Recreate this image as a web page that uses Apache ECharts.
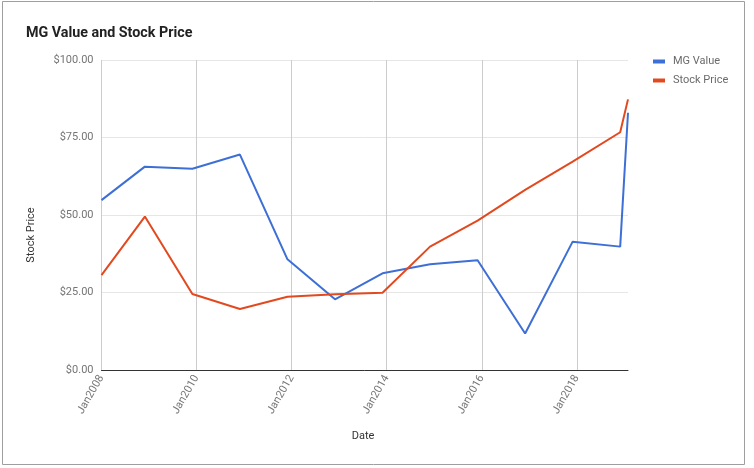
<!DOCTYPE html>
<html>
<head>
<meta charset="utf-8">
<script src="https://cdn.jsdelivr.net/npm/echarts@6/dist/echarts.min.js"></script>
<style>
html,body{margin:0;padding:0;background:#fff;}
#c{width:754px;height:468px;}
</style>
</head>
<body>
<div id="c"></div>
<script>
// Data
const dates = ['2008-01-01','2008-11-30','2009-11-30','2010-11-30','2011-11-30','2012-11-30','2013-11-30','2014-11-30','2015-11-30','2016-11-30','2017-11-30','2018-11-30','2019-01-29'];
const mgValue = [54.8, 65.6, 64.9, 69.5, 35.7, 22.8, 31.2, 34.1, 35.4, 11.8, 41.4, 39.8, 83.0];
const stockPrice = [30.6, 49.5, 24.5, 19.7, 23.6, 24.4, 24.9, 39.8, 48.2, 58.1, 67.2, 76.7, 87.3];
const yTicks = [0, 25, 50, 75, 100];
const xTickYears = [2008, 2010, 2012, 2014, 2016, 2018];

function toYear(s) {
  const d = new Date(s + 'T00:00:00Z');
  const y = d.getUTCFullYear();
  const start = Date.UTC(y, 0, 1), end = Date.UTC(y + 1, 0, 1);
  return y + (d.getTime() - start) / (end - start);
}
const xs = dates.map(toYear);
const mgData = xs.map((x, i) => [x, mgValue[i]]);
const spData = xs.map((x, i) => [x, stockPrice[i]]);

const chart = echarts.init(document.getElementById('c'), null, {renderer: 'canvas'});
const font = 'Roboto, "Noto Sans", Arial, sans-serif';
chart.setOption({
  animation: false,
  backgroundColor: '#fff',
  textStyle: {fontFamily: font},
  title: {
    text: 'MG Value and Stock Price',
    left: 21, top: 21,
    textStyle: {fontSize: 14.3, fontWeight: 'bold', color: '#222', fontFamily: font}
  },
  legend: {
    orient: 'vertical',
    left: 648, top: 51,
    itemGap: 8,
    itemWidth: 12, itemHeight: 4,
    icon: 'rect',
    textStyle: {fontSize: 11, color: '#6b6b6b', fontFamily: font, padding: [0,0,0,3]},
    data: ['MG Value', 'Stock Price']
  },
  grid: {left: 101.5, right: 126, top: 60, bottom: 98, containLabel: false},
  xAxis: {
    type: 'value',
    min: xTickYears[0],
    max: xs[xs.length - 1],
    interval: 2,
    axisLine: {show: true, lineStyle: {color: '#333', width: 1}},
    axisTick: {show: false},
    splitLine: {show: true, showMaxLine: false, lineStyle: {color: '#cccccc', width: 1}},
    axisLabel: {
      rotate: 60, fontSize: 11, color: '#777', margin: 6, fontFamily: font,
      showMaxLabel: false,
      formatter: v => (xTickYears.indexOf(Math.round(v * 1000) / 1000) >= 0 ? 'Jan' + v : '')
    }
  },
  yAxis: {
    type: 'value',
    min: yTicks[0], max: yTicks[yTicks.length - 1], interval: 25,
    axisLine: {show: false},
    axisTick: {show: false},
    splitLine: {show: true, lineStyle: {color: '#e6e6e6', width: 1}},
    axisLabel: {fontSize: 11, color: '#757575', margin: 8, fontFamily: font,
      formatter: v => '$' + v.toFixed(2)}
  },
  graphic: [
    {type: 'rect', shape: {x: 2.5, y: 1.5, width: 742, height: 463},
     style: {fill: 'none', stroke: '#9e9e9e', lineWidth: 1}, silent: true, z: 100},
    {type: 'text', x: 31, y: 235, rotation: Math.PI / 2,
     style: {text: 'Stock Price', fill: '#333', font: '11px ' + font, textAlign: 'center', textVerticalAlign: 'middle'}},
    {type: 'text', x: 363, y: 436,
     style: {text: 'Date', fill: '#333', font: '11px ' + font, textAlign: 'center', textVerticalAlign: 'middle'}}
  ],
  series: [
    {name: 'MG Value', type: 'line', data: mgData, showSymbol: false, symbol: 'none',
     lineStyle: {width: 2, color: '#3d6fd6'}, itemStyle: {color: '#3d6fd6'}, clip: true},
    {name: 'Stock Price', type: 'line', data: spData, showSymbol: false, symbol: 'none',
     lineStyle: {width: 2, color: '#e2491f'}, itemStyle: {color: '#e2491f'}, clip: true}
  ]
});
</script>
</body>
</html>
